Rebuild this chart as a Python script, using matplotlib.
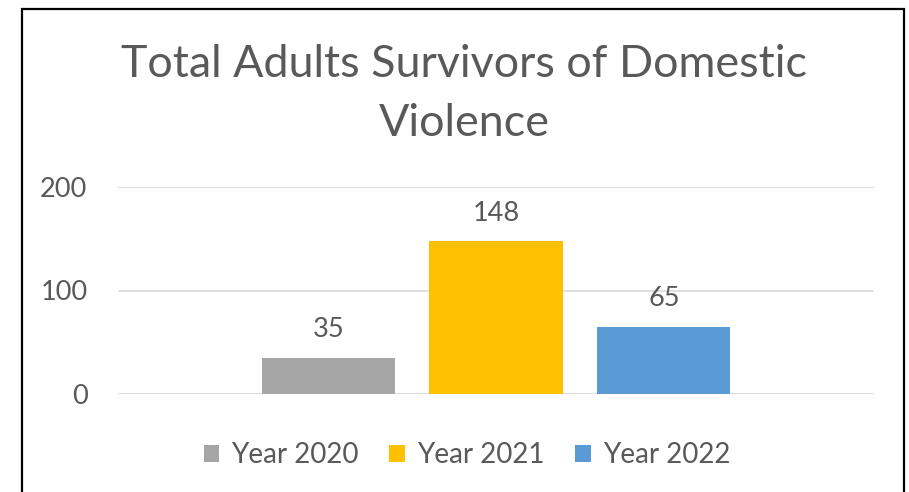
import matplotlib.pyplot as plt
from matplotlib.patches import Rectangle

# Daten
series = ['Year 2020', 'Year 2021', 'Year 2022']
values = [35, 148, 65]
colors = ['#A5A5A5', '#FFC000', '#5B9BD5']
offsets = [-0.222, 0.0, 0.222]
yticks = [0, 100, 200]

plt.rcParams['font.family'] = ['Lato', 'DejaVu Sans']
txt = '#595959'

fig = plt.figure(figsize=(9.09, 4.92), dpi=100, facecolor='white')
ax = fig.add_axes([118 / 909, 1 - 394 / 492, 756 / 909, 207 / 492])

for name, v, c, off in zip(series, values, colors, offsets):
    ax.bar(off, v, width=0.176, color=c, label=name, zorder=3)
    ax.annotate(str(v), (off, v), xytext=(0, 11), textcoords='offset points',
                ha='center', va='bottom', fontsize=19.5, color=txt)

ax.set_xlim(-0.5, 0.5)
ax.set_ylim(0, 200)
ax.set_yticks(yticks)
ax.set_xticks([])
ax.grid(axis='y', color='#D9D9D9', linewidth=1.2, zorder=0)
for s in ax.spines.values():
    s.set_visible(False)
ax.tick_params(axis='y', length=0, labelsize=19.5, labelcolor=txt, pad=22)

fig.text(464 / 909, 1 - 94 / 492, 'Total Adults Survivors of Domestic\nViolence',
         ha='center', va='center', fontsize=32.3, color=txt, linespacing=1.52)

fig.legend(loc='center', bbox_to_anchor=(467 / 909, 1 - 455 / 492), ncol=3,
           frameon=False, fontsize=20, labelcolor=txt, handlelength=0.55,
           handleheight=0.55, handletextpad=0.45, columnspacing=1.1)

# Rahmen (unten abgeschnitten)
fig.patches.append(Rectangle((22 / 909, -0.05), (904 - 22) / 909, 1 - 9 / 492 + 0.05,
                             transform=fig.transFigure, fill=False,
                             edgecolor='black', linewidth=1.6))

plt.savefig('out.png', dpi=100)
